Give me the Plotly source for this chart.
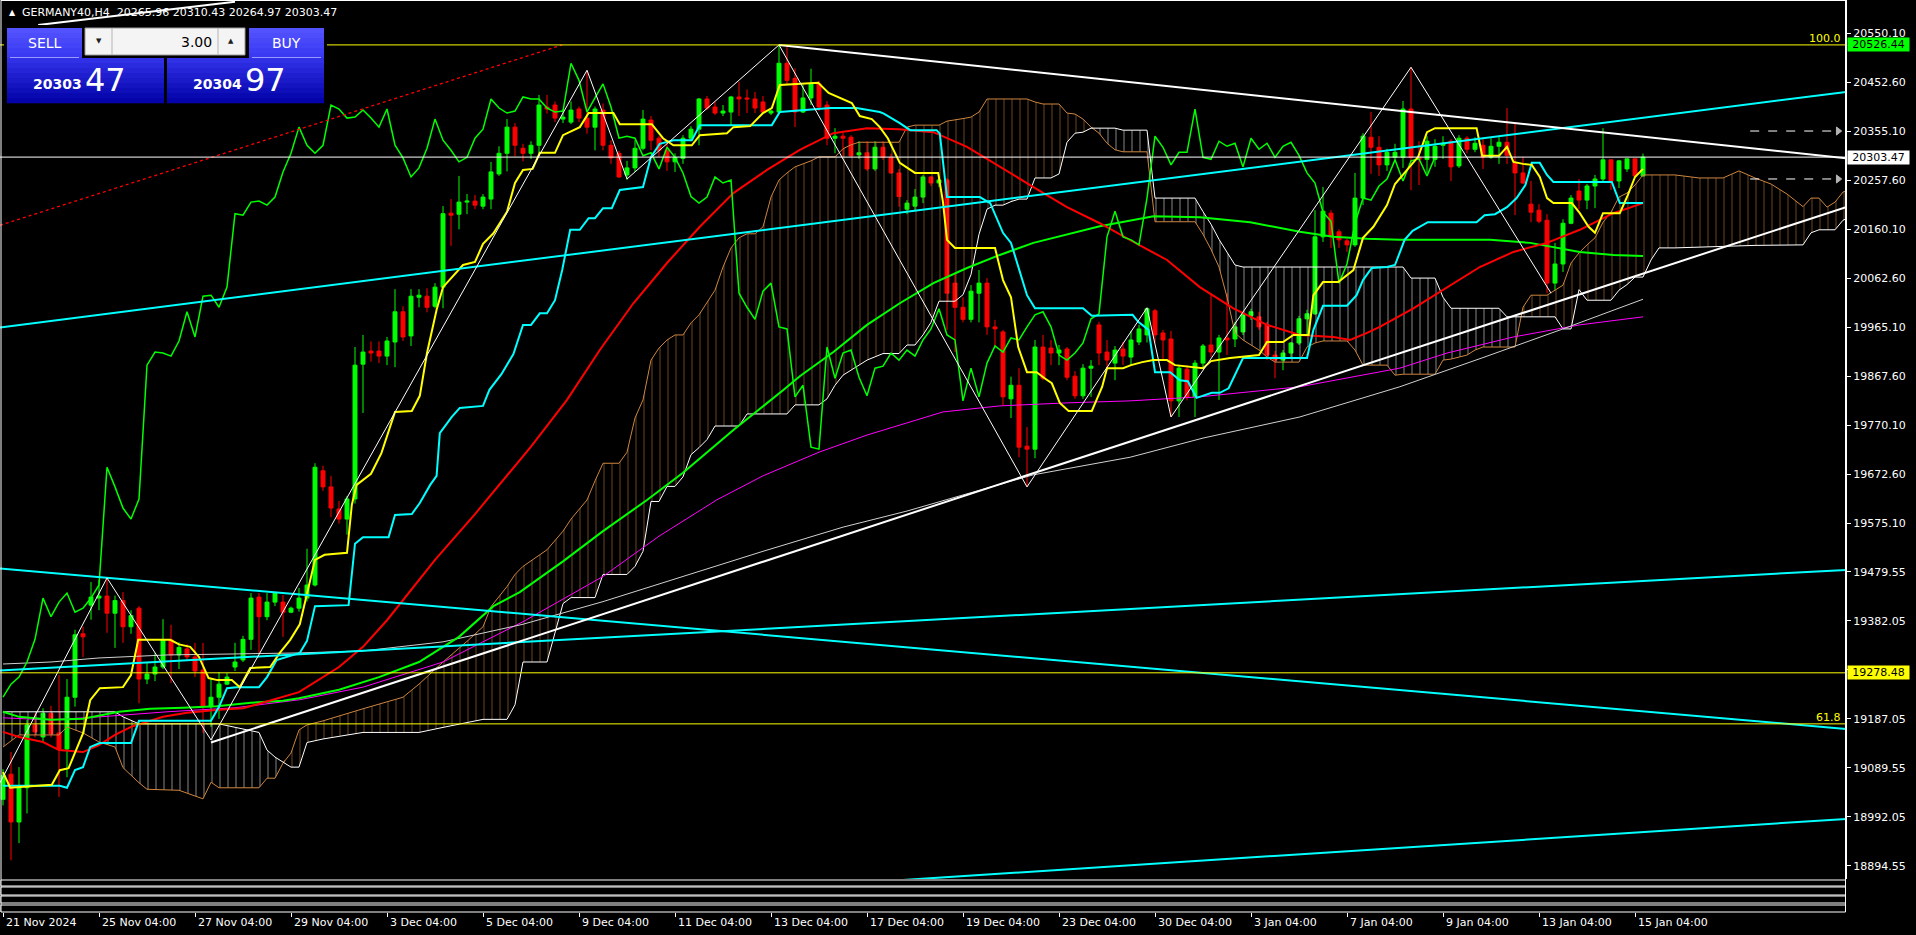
import numpy as np
import plotly.graph_objects as go

# ---------------- data ----------------
time_labels = ["21 Nov 2024", "25 Nov 04:00", "27 Nov 04:00", "29 Nov 04:00", "3 Dec 04:00",
               "5 Dec 04:00", "9 Dec 04:00", "11 Dec 04:00", "13 Dec 04:00", "17 Dec 04:00",
               "19 Dec 04:00", "23 Dec 04:00", "30 Dec 04:00", "3 Jan 04:00", "7 Jan 04:00",
               "9 Jan 04:00", "13 Jan 04:00", "15 Jan 04:00"]
time_label_bars = list(range(0, 205, 12))

price_tick_values = [20550.10, 20452.60, 20355.10, 20257.60, 20160.10, 20062.60, 19965.10,
                     19867.60, 19770.10, 19672.60, 19575.10, 19479.55, 19382.05, 19284.55,
                     19187.05, 19089.55, 18992.05, 18894.55]

open_ = [19027, 19077, 18982, 19050, 19175, 19151, 19198, 19159, 19127, 19230,
         19356, 19413, 19427, 19431, 19397, 19422, 19370, 19407, 19266, 19276,
         19290, 19344, 19314, 19326, 19310, 19284, 19211, 19230, 19256, 19290,
         19304, 19345, 19429, 19390, 19419, 19419, 19399, 19407, 19427, 19453,
         19680, 19648, 19604, 19584, 19624, 19892, 19918, 19918, 19908, 19936,
         19996, 19948, 20025, 20027, 20007, 20045, 20192, 20190, 20214, 20216,
         20206, 20220, 20270, 20311, 20363, 20321, 20311, 20327, 20403, 20407,
         20379, 20373, 20399, 20381, 20363, 20397, 20327, 20311, 20268, 20282,
         20321, 20377, 20341, 20317, 20294, 20301, 20341, 20359, 20419, 20403,
         20391, 20393, 20423, 20421, 20419, 20413, 20391, 20393, 20490, 20460,
         20393, 20421, 20449, 20407, 20341, 20345, 20343, 20308, 20312, 20280,
         20323, 20303, 20272, 20200, 20206, 20224, 20264, 20252, 20258, 20053,
         20005, 19981, 20033, 20053, 19966, 19956, 19823, 19850, 19729, 19723,
         19926, 19924, 19914, 19922, 19868, 19829, 19884, 19970, 19916, 19894,
         19922, 19906, 19936, 19950, 19998, 19954, 19942, 19819, 19882, 19827,
         19894, 19930, 19916, 19944, 19942, 19956, 19988, 19986, 19970, 19910,
         19900, 19914, 19934, 19982, 19992, 20145, 20192, 20155, 20137, 20129,
         20222, 20343, 20323, 20288, 20303, 20303, 20399, 20303, 20299, 20299,
         20327, 20335, 20286, 20341, 20319, 20327, 20303, 20325, 20333, 20292,
         20272, 20210, 20198, 20178, 20053, 20091, 20172, 20236, 20218, 20246,
         20260, 20298, 20256, 20280, 20300, 20265.96]
high_ = [19087, 19121, 19091, 19185, 19198, 19208, 19213, 19274, 19266, 19364,
         19370, 19459, 19463, 19467, 19432, 19439, 19403, 19411, 19300, 19318,
         19385, 19374, 19339, 19335, 19338, 19338, 19268, 19280, 19278, 19338,
         19352, 19437, 19437, 19437, 19439, 19433, 19410, 19447, 19525, 19695,
         19690, 19670, 19620, 19630, 19926, 19950, 19937, 19937, 19946, 20041,
         20007, 20041, 20041, 20043, 20053, 20206, 20220, 20266, 20230, 20228,
         20230, 20294, 20325, 20379, 20371, 20330, 20335, 20427, 20427, 20414,
         20399, 20414, 20404, 20476, 20404, 20410, 20337, 20316, 20296, 20337,
         20397, 20385, 20345, 20335, 20311, 20347, 20365, 20421, 20425, 20413,
         20407, 20425, 20453, 20438, 20433, 20425, 20397, 20526.44, 20522, 20480,
         20447, 20479, 20455, 20415, 20361, 20351, 20347, 20335, 20335, 20335,
         20335, 20310, 20280, 20218, 20240, 20268, 20266, 20266, 20262, 20073,
         20025, 20049, 20079, 20063, 19980, 19960, 19867, 19884, 19767, 19940,
         19950, 19940, 19930, 19926, 19878, 19892, 19900, 19976, 19940, 19928,
         19936, 19958, 19970, 20004, 20002, 19960, 19958, 19890, 19890, 19900,
         19932, 20033, 19950, 20033, 19976, 19996, 20002, 19996, 19976, 19918,
         19920, 19936, 19988, 20000, 20198, 20244, 20198, 20160, 20141, 20272,
         20351, 20393, 20345, 20320, 20330, 20415, 20482, 20335, 20345, 20339,
         20345, 20339, 20347, 20345, 20343, 20341, 20341, 20343, 20401, 20371,
         20304, 20256, 20210, 20190, 20133, 20180, 20228, 20260, 20250, 20268,
         20361, 20298, 20298, 20300, 20300, 20310.43]
low_ = [19015, 18906, 18940, 18999, 19150, 19141, 19150, 19032, 19071, 19211,
        19310, 19384, 19403, 19358, 19328, 19338, 19356, 19218, 19256, 19262,
        19286, 19258, 19286, 19302, 19270, 19159, 19171, 19187, 19254, 19282,
        19300, 19324, 19318, 19383, 19411, 19350, 19397, 19400, 19420, 19450,
        19640, 19588, 19575, 19553, 19615, 19795, 19897, 19894, 19890, 19886,
        19938, 19928, 20005, 19995, 20003, 20003, 20127, 20160, 20190, 20200,
        20200, 20200, 20266, 20275, 20305, 20295, 20300, 20307, 20390, 20373,
        20371, 20369, 20373, 20350, 20317, 20317, 20290, 20262, 20258, 20274,
        20317, 20317, 20304, 20276, 20274, 20290, 20335, 20327, 20397, 20387,
        20385, 20367, 20385, 20391, 20391, 20391, 20387, 20391, 20448, 20363,
        20391, 20407, 20395, 20327, 20311, 20304, 20304, 20300, 20276, 20276,
        20298, 20270, 20205, 20190, 20196, 20212, 20246, 20244, 19960, 19916,
        19975, 19975, 19975, 19950, 19927, 19810, 19785, 19707, 19648, 19705,
        19860, 19890, 19890, 19860, 19823, 19823, 19827, 19890, 19880, 19860,
        19890, 19890, 19930, 19935, 19935, 19900, 19787, 19787, 19820, 19787,
        19884, 19906, 19821, 19910, 19926, 19950, 19980, 19960, 19900, 19864,
        19880, 19904, 19930, 19950, 19990, 20135, 20123, 20123, 20115, 20125,
        20208, 20270, 20266, 20276, 20294, 20282, 20238, 20248, 20271, 20284,
        20300, 20256, 20282, 20311, 20313, 20280, 20300, 20290, 20290, 20188,
        20250, 20174, 20172, 20033, 20039, 20075, 20170, 20200, 20200, 20202,
        20254, 20238, 20242, 20274, 20264, 20264.97]
close_ = [19075, 18982, 19050, 19175, 19161, 19198, 19157, 19127, 19230, 19354,
          19350, 19429, 19431, 19397, 19422, 19370, 19392, 19266, 19276, 19290,
          19344, 19314, 19329, 19310, 19282, 19211, 19230, 19256, 19270, 19300,
          19345, 19427, 19390, 19419, 19437, 19399, 19407, 19427, 19453, 19687,
          19648, 19606, 19584, 19624, 19890, 19916, 19914, 19908, 19938, 19996,
          19946, 20027, 20029, 20005, 20045, 20191, 20188, 20214, 20216, 20208,
          20224, 20274, 20311, 20363, 20327, 20311, 20327, 20407, 20399, 20381,
          20383, 20397, 20381, 20363, 20399, 20327, 20302, 20264, 20282, 20321,
          20379, 20337, 20317, 20294, 20303, 20341, 20359, 20419, 20401, 20391,
          20395, 20423, 20419, 20419, 20401, 20393, 20395, 20490, 20456, 20393,
          20421, 20449, 20403, 20341, 20345, 20341, 20306, 20312, 20280, 20323,
          20303, 20272, 20225, 20212, 20224, 20264, 20252, 20258, 20033, 20005,
          19981, 20037, 20053, 19966, 19962, 19827, 19850, 19727, 19723, 19926,
          19864, 19914, 19920, 19866, 19829, 19884, 19888, 19914, 19900, 19920,
          19908, 19940, 19962, 20002, 19950, 19940, 19819, 19884, 19827, 19894,
          19928, 19916, 19944, 19940, 19966, 19990, 19996, 19966, 19910, 19900,
          19914, 19934, 19982, 19992, 20145, 20196, 20145, 20139, 20129, 20222,
          20345, 20323, 20288, 20313, 20313, 20399, 20303, 20299, 20335, 20325,
          20331, 20284, 20341, 20319, 20331, 20303, 20325, 20333, 20307, 20272,
          20252, 20194, 20176, 20053, 20091, 20172, 20222, 20218, 20246, 20260,
          20298, 20256, 20296, 20300, 20266, 20303.47]

# Ichimoku lines: (bar, price)
tenkan = [(0, 19081), (0.9, 19050), (6.1, 19056), (7.1, 19085), (8.2, 19089), (9, 19119), (10, 19158),
          (10.9, 19224), (12.1, 19248), (15, 19250), (16, 19274), (16.9, 19344), (20.9, 19344), (22, 19335),
          (23.4, 19330), (24.5, 19310), (25.7, 19268), (26.8, 19264), (28.6, 19264), (29.6, 19250),
          (30.9, 19288), (33.4, 19290), (34.6, 19318), (35.9, 19344), (37.1, 19375), (39, 19503),
          (40.2, 19513), (43, 19517), (43.6, 19612), (44.2, 19652), (46, 19674), (47.3, 19715), (49, 19797),
          (51.1, 19799), (52.1, 19829), (53, 19914), (54.2, 20000), (55, 20045), (57.5, 20089), (59, 20095),
          (60, 20131), (61.3, 20152), (63, 20195), (64, 20252), (65, 20278), (66.2, 20280), (67.1, 20312),
          (69, 20312), (70, 20347), (72.1, 20363), (73.2, 20391), (76.3, 20391), (77.1, 20369), (81.1, 20369),
          (82.5, 20341), (83.8, 20327), (86.1, 20327), (87.1, 20347), (90.5, 20351), (91.3, 20363),
          (93.4, 20365), (95, 20391), (96.1, 20401), (97.1, 20447), (101.9, 20451), (103.2, 20431),
          (106.1, 20411), (107.1, 20385), (108.6, 20379), (109.6, 20363), (110.6, 20341), (112.1, 20292),
          (114, 20272), (116.9, 20272), (117.5, 20214), (118, 20139), (119, 20123), (124, 20123), (125, 20059),
          (126, 20025), (126.9, 19926), (128, 19876), (129.2, 19876), (130.2, 19864), (131.1, 19854),
          (132.1, 19815), (133.2, 19799), (136.1, 19799), (137.4, 19847), (138, 19884), (140, 19884),
          (141, 19890), (142.4, 19896), (143.8, 19900), (145.5, 19900), (146.5, 19890), (150, 19884),
          (151, 19898), (153.4, 19904), (157, 19910), (158, 19936), (160, 19936), (161.3, 19950),
          (163.2, 19950), (163.8, 20029), (165, 20055), (166.9, 20055), (168.8, 20079), (170, 20143),
          (171.3, 20165), (173, 20208), (174, 20250), (175, 20268), (176.9, 20304), (178, 20353), (179, 20361),
          (184.2, 20361), (184.9, 20306), (187, 20306), (188, 20324), (188.8, 20294), (190, 20290),
          (191.1, 20288), (192.1, 20264), (193, 20222), (193.8, 20212), (196.1, 20212), (197.1, 20192),
          (198.2, 20165), (199, 20153), (200, 20192), (202.1, 20192), (203.1, 20228), (204, 20264), (205, 20280)]
kijun = [(0, 19054), (7.1, 19054), (8, 19050), (9, 19085), (10, 19091), (10.9, 19131), (12.1, 19139), (16, 19139),
         (17, 19183), (26, 19183), (27, 19211), (28, 19248), (29.2, 19250), (32, 19250), (33, 19270),
         (34.2, 19304), (37.1, 19318), (38, 19342), (39, 19411), (43.2, 19413), (44, 19535), (45, 19548),
         (48.2, 19548), (49, 19592), (51.1, 19594), (52.1, 19616), (53.4, 19652), (54.2, 19670), (54.6, 19755),
         (56.1, 19787), (57.1, 19805), (60, 19809), (60.8, 19841), (62.3, 19872), (63.8, 19912), (65, 19970),
         (66, 19970), (67.1, 19993), (68, 19993), (69, 20019), (69.9, 20079), (70.9, 20159), (72.1, 20159),
         (73.2, 20182), (74, 20182), (75, 20202), (76.1, 20202), (77.1, 20238), (80, 20244), (81, 20304),
         (82.1, 20330), (83.8, 20337), (86.1, 20337), (87.1, 20367), (96.1, 20367), (97.1, 20393),
         (103.4, 20401), (106.7, 20401), (109.6, 20393), (110.1, 20390), (112.1, 20371), (113.4, 20357),
         (116.7, 20357), (117.1, 20350), (118, 20224), (122.1, 20224), (123.4, 20212), (125, 20153),
         (126, 20133), (128, 20029), (129, 20003), (135, 20003), (136.1, 19988), (141.2, 19990),
         (141.9, 19976), (143.2, 19960), (144, 19876), (145.9, 19876), (147.1, 19860), (148.1, 19858),
         (149.2, 19825), (151.1, 19835), (152.1, 19835), (153.2, 19844), (155, 19904), (163, 19904),
         (163.8, 19960), (165, 20008), (168, 20008), (169.2, 20029), (170, 20059), (171.1, 20083), (173, 20085),
         (174, 20089), (175.2, 20139), (176.2, 20157), (178.1, 20174), (184.2, 20174), (185.2, 20188),
         (186.5, 20190), (188, 20204), (189.2, 20222), (190.3, 20248), (191.1, 20292), (192.1, 20292),
         (193, 20268), (193.8, 20254), (201.1, 20254), (202.1, 20212), (205, 20212)]
# Kumo: (bar, senkou span A, senkou span B)
kumo = [(0, 19131, 19201), (2, 19155, 19201), (7, 19155, 19201), (8, 19171, 19201), (10, 19159, 19201),
        (12, 19141, 19201), (14, 19131, 19201), (15, 19090, 19191), (17, 19060, 19177), (18, 19047, 19177),
        (22, 19045, 19177), (25, 19028, 19177), (26, 19061, 19177), (27, 19050, 19177), (32, 19050, 19160),
        (33, 19069, 19125), (34, 19069, 19111), (35, 19099, 19101), (36, 19119, 19091), (37, 19165, 19091),
        (38, 19175, 19140), (40, 19183, 19147), (45, 19207, 19160), (50, 19230, 19160), (52, 19256, 19160),
        (55, 19300, 19170), (58, 19341, 19180), (60, 19370, 19186), (61, 19410, 19186), (63, 19450, 19186),
        (64, 19474, 19215), (65, 19490, 19300), (68, 19523, 19300), (70, 19560, 19416), (71, 19584, 19428),
        (73, 19622, 19428), (74, 19660, 19428), (75, 19695, 19474), (77, 19695, 19474), (78, 19717, 19474),
        (79, 19785, 19490), (80, 19821, 19520), (81, 19900, 19619), (82, 19924, 19619), (83, 19940, 19649),
        (84, 19950, 19649), (85, 19950, 19668), (86, 19974, 19712), (87, 19990, 19726), (88, 20015, 19742),
        (89, 20039, 19769), (90, 20085, 19769), (91, 20123, 19769), (92, 20143, 19769), (93, 20151, 19793),
        (94, 20151, 19793), (95, 20165, 19793), (96, 20224, 19793), (97, 20258, 19793), (98, 20272, 19793),
        (99, 20284, 19811), (100, 20290, 19811), (101, 20296, 19811), (102, 20304, 19811), (103, 20304, 19823),
        (104, 20304, 19850), (105, 20320, 19870), (106, 20328, 19880), (107, 20333, 19890), (108, 20333, 19900),
        (110, 20333, 19913), (112, 20333, 19913), (113, 20363, 19930), (114, 20367, 19930), (115, 20367, 19950),
        (116, 20367, 19975), (117, 20367, 20017), (118, 20375, 20017), (119, 20377, 20017), (120, 20380, 20030),
        (121, 20383, 20070), (122, 20393, 20150), (123, 20419, 20200), (124, 20419, 20208), (125, 20419, 20208),
        (126, 20419, 20215), (127, 20419, 20220), (128, 20419, 20220), (129, 20413, 20262), (130, 20409, 20262),
        (131, 20409, 20262), (132, 20409, 20270), (133, 20391, 20333), (134, 20389, 20351), (135, 20379, 20353),
        (136, 20363, 20361), (137, 20351, 20361), (138, 20331, 20361), (139, 20318, 20361), (140, 20314, 20357),
        (143, 20314, 20357), (144, 20175, 20222), (149, 20175, 20222), (150, 20150, 20195), (151, 20120, 20170),
        (152, 20085, 20140), (153, 20025, 20115), (154, 19954, 20089), (155, 19940, 20085), (156, 19930, 20085),
        (157, 19920, 20085), (158, 19906, 20085), (159, 19896, 20085), (162, 19896, 20085), (163, 19926, 20085),
        (164, 19934, 20085), (165, 19938, 20085), (168, 19938, 20085), (169, 19920, 20085), (170, 19890, 20085),
        (173, 19890, 20085), (174, 19870, 20085), (175, 19872, 20085), (176, 19872, 20063), (179, 19872, 20063),
        (180, 19900, 20025), (181, 19902, 20003), (183, 19910, 20003), (184, 19920, 20003), (185, 19926, 20003),
        (187, 19926, 20003), (188, 19926, 19986), (189, 19926, 19986), (190, 20005, 19986), (191, 20029, 19986),
        (193, 20029, 19986), (194, 20039, 19986), (195, 20049, 19962), (196, 20093, 19962), (197, 20113, 20040),
        (198, 20129, 20019), (199, 20143, 20019), (200, 20174, 20019), (201, 20194, 20019), (202, 20224, 20039),
        (203, 20232, 20050), (204, 20248, 20065), (205, 20268, 20065), (206, 20268, 20099), (207, 20268, 20123),
        (209, 20268, 20123), (212, 20262, 20125), (215, 20262, 20126), (217, 20276, 20127), (219, 20262, 20128),
        (221, 20250, 20128), (223, 20230, 20129), (225, 20205, 20129), (226, 20222, 20153), (227, 20222, 20159),
        (228, 20204, 20159), (229, 20214, 20159), (230, 20234, 20178), (231, 20240, 20185)]

# moving averages: (bar, price)
ma_red = [(0, 19161), (2, 19151), (5, 19141), (7, 19125), (10, 19121), (12, 19135), (14, 19155), (16, 19171),
          (20, 19191), (23, 19199), (27, 19205), (30, 19208), (32, 19217), (35, 19230), (37, 19240), (42, 19290),
          (45, 19330), (48, 19383), (54, 19503), (59, 19594), (62, 19652), (66, 19728), (70.5, 19821),
          (74.6, 19920), (78.8, 20013), (83, 20093), (87.1, 20165), (91.3, 20232), (95.5, 20278), (99.6, 20318),
          (103.8, 20351), (108, 20361), (112, 20359), (116.3, 20353), (120.5, 20324), (124.6, 20284),
          (128.8, 20244), (133, 20204), (137.1, 20172), (141.3, 20135), (145.5, 20099), (149.6, 20045),
          (153.8, 20003), (158, 19970), (162.1, 19950), (166.3, 19946), (168.4, 19940), (170.5, 19954),
          (172.1, 19966), (176.3, 20003), (180.5, 20045), (184.6, 20085), (188.8, 20115), (193, 20133),
          (197.1, 20159), (201.3, 20192), (205, 20212)]
ma_green = [(0, 19201), (2, 19191), (6, 19185), (10, 19187), (14.5, 19201), (18.4, 19207), (22.5, 19209),
            (26.7, 19212), (31, 19219), (35, 19223), (37, 19228), (42, 19245), (47, 19270), (52, 19300),
            (57, 19350), (61.3, 19411), (64.6, 19439), (70, 19500), (75, 19560), (80.5, 19622), (85, 19676),
            (91.3, 19761), (97.5, 19840), (99.6, 19868), (103.8, 19916), (108, 19970), (112.1, 20013),
            (116.3, 20053), (120.5, 20083), (124.6, 20109), (128.8, 20133), (133, 20149), (137.1, 20166),
            (143.8, 20186), (149.6, 20184), (155.9, 20174), (162.1, 20155), (166.3, 20145), (170.5, 20141),
            (174.6, 20139), (185.9, 20139), (190.9, 20133), (197.1, 20115), (201.3, 20109), (205, 20107)]
ma_magenta = [(0, 19189), (6, 19185), (12.1, 19191), (20.5, 19201), (29, 19209), (37.1, 19225), (45, 19250),
              (55, 19300), (65, 19380), (75, 19470), (82, 19550), (89.2, 19622), (95, 19670), (99.6, 19701),
              (102, 19717), (108, 19751), (117.5, 19797), (124.6, 19809), (133, 19815), (140.9, 19819),
              (149.6, 19827), (162.1, 19847), (174.6, 19884), (180.5, 19914), (188.8, 19946), (197.1, 19970),
              (205, 19986)]
ma_white = [(0, 19296), (6, 19300), (12, 19308), (20.5, 19314), (29, 19316), (37, 19318), (45, 19322),
            (55, 19340), (65, 19375), (75, 19420), (85, 19470), (95, 19520), (105, 19568), (113, 19600),
            (120, 19632), (128.8, 19672), (140.9, 19707), (150, 19745), (162.1, 19787), (174.6, 19847),
            (185, 19905), (195, 19962), (205, 20021)]

zigzag = [(-0.375, 19060), (13, 19467), (26, 19145), (73, 20476), (78, 20260), (97, 20526.44),
          (128, 19648), (143, 20004), (146, 19787), (176, 20482), (193.5, 20033)]

# drawn objects: (bar0, price0, bar1, price1)
cyan_lines = [(-0.375, 19965, 230.375, 20433), (-0.375, 19486, 230.375, 19167),
              (-0.375, 19283, 230.375, 19483), (105, 18859, 230.375, 18988)]
white_lines = [(26, 19140, 230.375, 20204), (97, 20526.44, 230.375, 20301), (4.4, 20566, 29, 20612)]
red_dotted = (-0.375, 20168, 69.9, 20526.44)
fib_levels = [20526.44, 19177.0]
fib_names = ["100.0", "61.8"]
hline_yellow = 19278.48
bid_price = 20303.47
ask_price = 20304.97
alert_levels = [20355.3, 20260.0]
alert_span = (218.4, 229.4)

# ---------------- geometry helpers ----------------
PLOT_W, PLOT_H = 1846, 912
Y_TOP = 20615.7
Y_BOT = Y_TOP - 879 * 1.9875
X_MIN, X_MAX = -0.375, 230.375
FONT = "DejaVu Sans"


def px(fx):
    return fx / PLOT_W


def py(fy):
    return (PLOT_H - fy) / PLOT_H


ORANGE = "#cd853f"
fig = go.Figure()

n = min(len(open_), len(high_), len(low_), len(close_))
bars = list(range(n))

# ---- Kumo (hatched) ----
kb = np.array([k[0] for k in kumo], float)
ka = np.array([k[1] for k in kumo], float)
kbb = np.array([k[2] for k in kumo], float)
ktop = np.maximum(ka, kbb)
for lower, fg in ((kbb, ORANGE), (ka, "#ffffff")):
    fig.add_trace(go.Scatter(x=kb, y=lower, mode="lines", line=dict(width=0), hoverinfo="skip"))
    fig.add_trace(go.Scatter(x=kb, y=ktop, mode="lines", line=dict(width=0), fill="tonexty",
                             fillcolor="rgba(0,0,0,0)",
                             fillpattern=dict(shape="|", fgcolor=fg, bgcolor="rgba(0,0,0,0)",
                                              size=8, solidity=0.13),
                             hoverinfo="skip"))
fig.add_trace(go.Scatter(x=kb, y=ka, mode="lines", line=dict(color=ORANGE, width=1), hoverinfo="skip"))
fig.add_trace(go.Scatter(x=kb, y=kbb, mode="lines", line=dict(color="#ffffff", width=1), hoverinfo="skip"))

# ---- candles ----
fig.add_trace(go.Candlestick(x=bars, open=open_[:n], high=high_[:n], low=low_[:n], close=close_[:n],
                             increasing=dict(line=dict(color="#00ff00", width=1), fillcolor="#00ff00"),
                             decreasing=dict(line=dict(color="#ff0000", width=1), fillcolor="#ff0000"),
                             whiskerwidth=0, hoverinfo="skip"))


def line_trace(pts, color, width, dash="solid"):
    xs = [p[0] for p in pts]
    ys = [p[1] for p in pts]
    return go.Scatter(x=xs, y=ys, mode="lines", line=dict(color=color, width=width, dash=dash),
                      hoverinfo="skip")


fig.add_trace(line_trace(ma_magenta, "#ff00ff", 1))
fig.add_trace(line_trace(ma_white, "#d0d0d0", 1))
fig.add_trace(line_trace(ma_green, "#00ff00", 2))
fig.add_trace(line_trace(ma_red, "#ff0000", 2))

# chikou span = closes displayed 26 bars back
chikou_bars = list(range(n - 26))
chikou_vals = close_[26:n]
fig.add_trace(go.Scatter(x=chikou_bars, y=chikou_vals, mode="lines",
                         line=dict(color="#00ff00", width=1.5), hoverinfo="skip"))
fig.add_trace(line_trace(kijun, "#00ffff", 2))
fig.add_trace(line_trace(tenkan, "#ffff00", 2))

# ---- objects ----
for (b0, p0, b1, p1) in cyan_lines:
    fig.add_trace(line_trace([(b0, p0), (b1, p1)], "#00ffff", 2))
for (b0, p0, b1, p1) in white_lines:
    fig.add_trace(line_trace([(b0, p0), (b1, p1)], "#ffffff", 2))
fig.add_trace(line_trace([(red_dotted[0], red_dotted[1]), (red_dotted[2], red_dotted[3])],
                         "#ff0000", 1.3, "dot"))
fig.add_trace(line_trace(zigzag, "#ffffff", 1))
for lvl in fib_levels:
    fig.add_trace(line_trace([(X_MIN, lvl), (X_MAX, lvl)], "#ffff00", 1))
fig.add_trace(line_trace([(X_MIN, hline_yellow), (X_MAX, hline_yellow)], "#ffff00", 1))
fig.add_trace(line_trace([(X_MIN, bid_price), (X_MAX, bid_price)], "#ffffff", 1))
for lvl in alert_levels:
    fig.add_trace(go.Scatter(x=[alert_span[0], alert_span[1]], y=[lvl, lvl], mode="lines+markers",
                             line=dict(color="#ffffff", width=1, dash="dash"),
                             marker=dict(symbol="triangle-right", size=[0, 7], color="#ffffff"),
                             hoverinfo="skip"))

# ---------------- layout ----------------
shapes = []
shapes.append(dict(type="line", xref="paper", yref="paper", x0=px(1), x1=px(1), y0=py(0), y1=py(912),
                   line=dict(color="#ffffff", width=1)))
shapes.append(dict(type="line", xref="paper", yref="paper", x0=px(1845.5), x1=px(1845.5), y0=py(0),
                   y1=py(912), line=dict(color="#ffffff", width=1)))
shapes.append(dict(type="line", xref="paper", yref="paper", x0=px(1), x1=px(1845.5), y0=py(0.5),
                   y1=py(0.5), line=dict(color="#ffffff", width=1)))
for (a, b) in [(880, 886), (887, 895), (896, 903), (905, 912)]:
    shapes.append(dict(type="rect", xref="paper", yref="paper", x0=px(1), x1=px(1845.5), y0=py(b), y1=py(a),
                       line=dict(color="#ffffff", width=1), fillcolor="#000000"))


def grad_rect(x0, x1, y0, y1, ctop, cbot, steps=8):
    ct = np.array([int(ctop[i:i + 2], 16) for i in (1, 3, 5)], float)
    cb = np.array([int(cbot[i:i + 2], 16) for i in (1, 3, 5)], float)
    h = (y1 - y0) / steps
    for s in range(steps):
        t = s / max(steps - 1, 1)
        c = ct + (cb - ct) * t
        shapes.append(dict(type="rect", xref="paper", yref="paper", x0=px(x0), x1=px(x1),
                           y0=py(y0 + (s + 1) * h + 0.3), y1=py(y0 + s * h),
                           line=dict(width=0), fillcolor="rgb(%d,%d,%d)" % tuple(c)))


# one-click trading panel
shapes.append(dict(type="rect", xref="paper", yref="paper", x0=px(4), x1=px(327), y0=py(106), y1=py(25),
                   line=dict(width=0), fillcolor="#000000"))
grad_rect(7, 82, 28, 58, "#5252ff", "#3a3af2", 6)
grad_rect(249, 324, 28, 58, "#5252ff", "#3a3af2", 6)
grad_rect(7, 164, 58, 103, "#3030e6", "#0404aa", 9)
grad_rect(167, 324, 58, 103, "#3030e6", "#0404aa", 9)
for (a, b) in [(10, 79), (252, 321)]:
    shapes.append(dict(type="line", xref="paper", yref="paper", x0=px(a), x1=px(b), y0=py(57.5), y1=py(57.5),
                       line=dict(color="#9a9aff", width=1)))
shapes.append(dict(type="rect", xref="paper", yref="paper", x0=px(85), x1=px(245), y0=py(55), y1=py(28),
                   line=dict(color="#9a9a9a", width=1), fillcolor="#f4f4f4"))
for xx in (112, 218):
    shapes.append(dict(type="line", xref="paper", yref="paper", x0=px(xx), x1=px(xx), y0=py(55), y1=py(28),
                       line=dict(color="#b4b4b4", width=1)))

annotations = []


def txt(fx, fy, text, size=11, color="#ffffff", xanchor="left", yanchor="middle", **kw):
    annotations.append(dict(x=px(fx), y=py(fy), xref="paper", yref="paper", text=text, showarrow=False,
                            xanchor=xanchor, yanchor=yanchor, font=dict(family=FONT, size=size, color=color),
                            **kw))


txt(7, 13, "▲", size=8)
txt(20, 13, "GERMANY40,H4\u00a0 20265.96 20310.43 20264.97 20303.47", size=11)
txt(44.5, 43, "SELL", size=14, xanchor="center")
txt(286.5, 43, "BUY", size=14, xanchor="center")
txt(98.5, 41.5, "▼", size=7, color="#202020", xanchor="center")
txt(231.5, 41.5, "▲", size=7, color="#202020", xanchor="center")
txt(214, 42, "3.00", size=14, color="#000000", xanchor="right")
bid_s = "%.2f" % bid_price
ask_s = "%.2f" % ask_price
txt(31, 84, "<b>%s</b>" % bid_s.split(".")[0], size=14)
txt(83, 80, bid_s.split(".")[1], size=32)
txt(191, 84, "<b>%s</b>" % ask_s.split(".")[0], size=14)
txt(243, 80, ask_s.split(".")[1], size=32)

for b, lab in zip(time_label_bars, time_labels):
    annotations.append(dict(x=b, y=py(923), xref="x", yref="paper", text=lab, showarrow=False,
                            xanchor="left", yanchor="middle", xshift=1,
                            font=dict(family=FONT, size=11, color="#ffffff")))

for val, bg in [(fib_levels[0], "#00ff00"), (bid_price, "#ffffff"), (hline_yellow, "#ffff00")]:
    annotations.append(dict(x=px(1847), y=val, xref="paper", yref="y", text="%.2f" % val, showarrow=False,
                            xanchor="left", yanchor="middle", bgcolor=bg, width=61, height=13, borderpad=0,
                            font=dict(family=FONT, size=11, color="#000000")))
for val, name in zip(fib_levels, fib_names):
    annotations.append(dict(x=px(1843), y=val, xref="paper", yref="y", text=name, showarrow=False,
                            xanchor="right", yanchor="bottom", yshift=-2,
                            font=dict(family=FONT, size=11, color="#ffff00")))

fig.update_layout(
    width=1916, height=935,
    margin=dict(l=0, r=70, t=0, b=23, autoexpand=False),
    paper_bgcolor="#000000", plot_bgcolor="#000000",
    showlegend=False,
    font=dict(family=FONT, size=11, color="#ffffff"),
    xaxis=dict(range=[X_MIN, X_MAX], anchor="free", position=0, showgrid=False, zeroline=False,
               tickmode="array", tickvals=time_label_bars, showticklabels=False, automargin=False,
               ticks="outside", ticklen=4, tickcolor="#ffffff", showline=False,
               rangeslider=dict(visible=False)),
    yaxis=dict(domain=[py(879), 1], range=[Y_BOT, Y_TOP], side="right", showgrid=False, zeroline=False,
               tickmode="array", tickvals=price_tick_values, automargin=False,
               ticktext=["%.2f" % v for v in price_tick_values],
               ticks="outside", ticklen=4, tickcolor="#ffffff", showline=True, linecolor="#ffffff",
               tickfont=dict(family=FONT, size=11, color="#ffffff")),
    shapes=shapes,
    annotations=annotations,
)

fig.write_html("out.html",
               config={"displayModeBar": False, "staticPlot": True},
               post_script="document.body.style.margin='0';document.body.style.padding='0';"
                           "document.body.style.backgroundColor='#000';"
                           "document.documentElement.style.overflow='hidden';")
